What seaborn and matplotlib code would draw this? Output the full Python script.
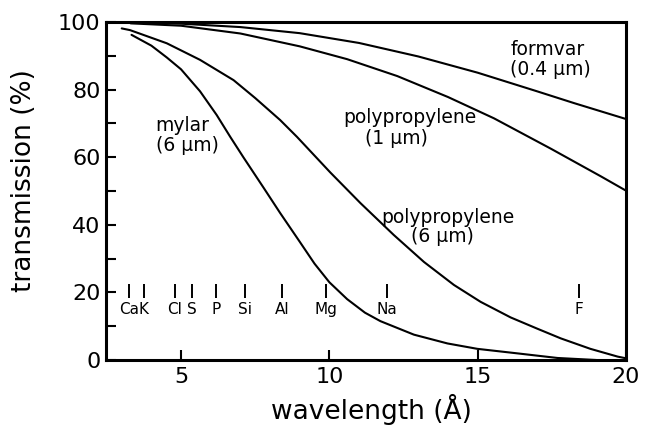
import matplotlib
matplotlib.use("Agg")
import matplotlib.pyplot as plt
import seaborn as sns
import pandas as pd
from matplotlib.ticker import MultipleLocator

# ---- data ----
formvar_wl = [3.3, 5.0, 7.0, 9.0, 11.0, 13.0, 15.0, 17.0, 18.25, 20.0]
formvar_tr = [99.9, 99.5, 98.5, 96.7, 93.8, 89.8, 85.0, 79.5, 76.0, 71.3]

pp1_wl = [3.3, 5.0, 7.0, 9.0, 10.6, 12.29, 14.0, 15.55, 17.47, 19.16, 20.0]
pp1_tr = [99.6, 98.9, 96.6, 92.8, 89.0, 84.0, 77.8, 71.5, 62.5, 54.3, 50.1]

pp6_wl = [3.0, 3.28, 4.52, 5.64, 6.77, 7.5, 8.34, 8.91, 10.03, 11.05, 12.17, 13.19,
          14.2, 15.1, 16.11, 17.0, 17.8, 18.8, 19.72, 20.0]
pp6_tr = [98.1, 97.6, 93.7, 88.8, 82.8, 77.5, 71.0, 66.0, 55.5, 46.4, 37.0, 29.0,
          22.2, 17.2, 12.6, 9.3, 6.4, 3.3, 1.0, 0.5]

mylar_wl = [3.33, 4.0, 4.52, 5.0, 5.64, 6.2, 6.66, 7.1, 7.78, 8.34, 9.0, 9.5, 10.0,
            10.6, 11.2, 11.72, 12.85, 13.98, 14.99, 16.3, 17.69, 19.0]
mylar_tr = [96.2, 93.0, 89.5, 86.0, 79.5, 72.5, 66.0, 60.0, 51.0, 43.5, 35.0, 28.5, 23.0,
            18.0, 14.0, 11.5, 7.5, 4.9, 3.3, 2.0, 0.6, 0.0]

element_names = ["Ca", "K", "Cl", "S", "P", "Si", "Al", "Mg", "Na", "F"]
element_wl = [3.25, 3.74, 4.78, 5.36, 6.18, 7.17, 8.40, 9.89, 11.93, 18.40]

x_ticks = [5, 10, 15, 20]
y_ticks = [0, 20, 40, 60, 80, 100]

annot_text = ["formvar", "(0.4 µm)", "polypropylene", "(1 µm)",
              "polypropylene", "(6 µm)", "mylar", "(6 µm)"]
annot_x = [17.36, 17.46, 12.7, 12.27, 14.0, 13.8, 5.03, 5.2]
annot_y = [91.9, 85.9, 71.8, 65.6, 42.3, 36.4, 69.5, 63.6]

# ---- build table ----
series = [("formvar", formvar_wl, formvar_tr),
          ("pp1", pp1_wl, pp1_tr),
          ("pp6", pp6_wl, pp6_tr),
          ("mylar", mylar_wl, mylar_tr)]
df = pd.concat([pd.DataFrame({"wavelength": w, "transmission": t, "film": n})
                for n, w, t in series], ignore_index=True)

sns.set_theme(style="white", rc={"text.color": "black", "axes.labelcolor": "black",
                                 "xtick.color": "black", "ytick.color": "black"})
plt.rcParams["font.family"] = ["DejaVu Sans"]

fig = plt.figure(figsize=(6.45, 4.32), dpi=100)
ax = fig.add_axes([106 / 645, 1 - 360 / 432, 520 / 645, 338 / 432])

sns.lineplot(data=df, x="wavelength", y="transmission", units="film",
             estimator=None, sort=False, color="black", lw=1.5, ax=ax, legend=False,
             solid_joinstyle="round", solid_capstyle="round")

# element markers
ax.vlines(element_wl, 18.4, 22.6, color="black", lw=1.4)
for name, xv in zip(element_names, element_wl):
    ax.text(xv, 15.0, name, ha="center", va="center", fontsize=11)

for t, xv, yv in zip(annot_text, annot_x, annot_y):
    ax.text(xv, yv, t, ha="center", va="center", fontsize=13.5)

ax.set_xlim(2.47, 20.0)
ax.set_ylim(0, 100)
ax.set_xticks(x_ticks)
ax.set_yticks(y_ticks)
ax.yaxis.set_minor_locator(MultipleLocator(10))
ax.tick_params(which="both", direction="in", length=7, width=1.5,
               bottom=True, left=True, top=False, right=False)
ax.tick_params(axis="both", which="major", labelsize=16)
ax.tick_params(axis="x", pad=5)
ax.tick_params(axis="y", pad=4)

for s in ax.spines.values():
    s.set_linewidth(2.2)
    s.set_color("black")

ax.set_xlabel("wavelength (Å)", fontsize=19)
ax.set_ylabel("transmission (%)", fontsize=19)
ax.xaxis.set_label_coords(0.51, -0.10)
ax.yaxis.set_label_coords(-0.133, 0.53)

fig.savefig("out.png", dpi=100)
